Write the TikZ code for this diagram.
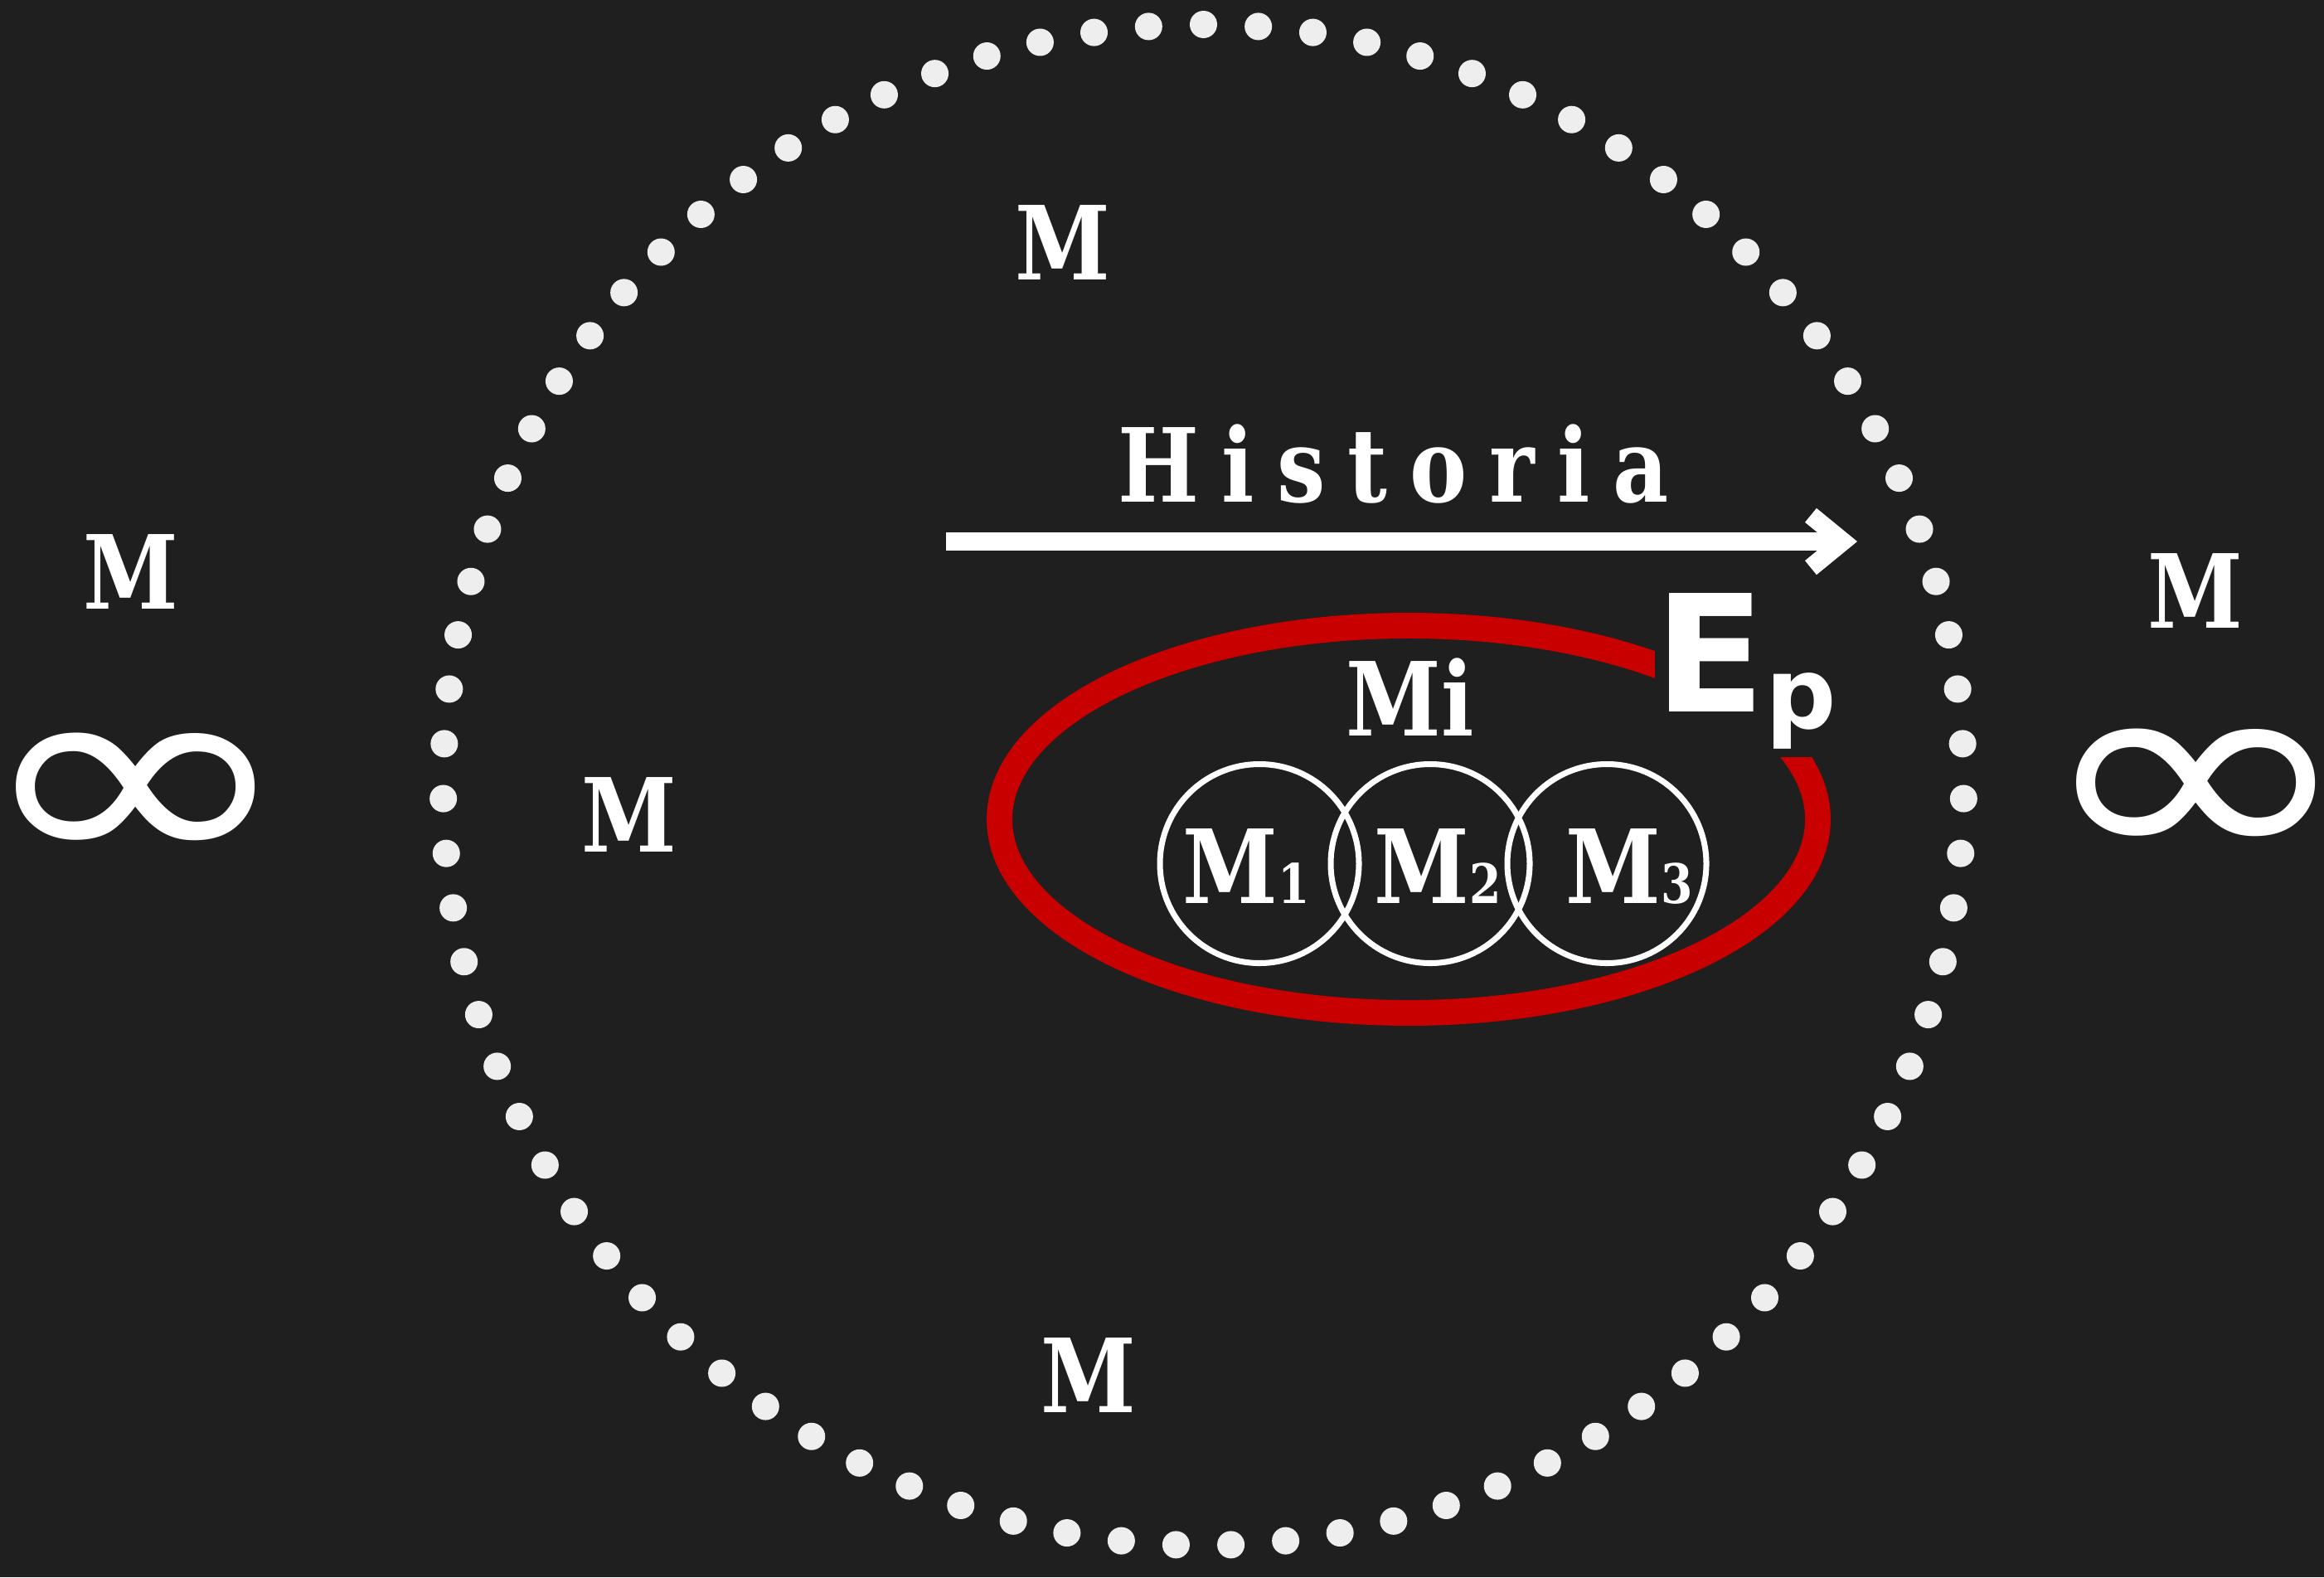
\documentclass[tikz,border=0pt]{standalone}
\usepackage{fontspec}
\setmainfont{DejaVu Serif}[FakeStretch=0.84]
\newfontfamily\histfont{DejaVu Serif}[FakeStretch=0.84, LetterSpace=22]
\newfontfamily\epfont{DejaVu Sans}
\usepackage{xcolor}
\usepackage{graphicx}
\usepackage{tikz}
\usetikzlibrary{arrows.meta, positioning}
\definecolor{bgdark}{HTML}{1F1F1F}
\definecolor{dotgray}{HTML}{EEEEEE}
\definecolor{ringred}{HTML}{C80000}
\newcommand{\msub}[1]{{\fontsize{18.7}{20}\selectfont #1}}
\newcommand{\biginfty}{\scalebox{1.326}[0.985]{∞}}
\tikzset{
  mlabel/.style={text=white, font=\fontsize{35.1}{40}\selectfont\bfseries, inner sep=0pt, anchor=base},
  histlabel/.style={mlabel, font=\histfont\fontsize{35.1}{40}\selectfont\bfseries},
  infty/.style={text=white, font=\epfont\fontsize{100}{110}\selectfont, inner sep=0pt, anchor=base},
  subcircle/.style={circle, draw=white, line width=2pt, minimum size=2.4cm, inner sep=0pt},
  ringdot/.style={fill=dotgray},
  epring/.style={draw=ringred, line width=8.8pt},
  histarrow/.style={-{Straight Barb[length=11pt,width=18pt]}, draw=white, line width=6.26pt},
  eplabel/.style={text=white, fill=bgdark, font=\epfont\bfseries\fontsize{55.8}{60}\selectfont,
                  inner xsep=0pt, inner ysep=3pt, anchor=base west},
}
\begin{document}
\begin{tikzpicture}[x=1cm, y=-1cm]

  %% canvas
  \fill[bgdark] (0,0) rectangle (28.03,19.02);
  \useasboundingbox (0,0) rectangle (28.03,19.02);

  %% dotted ring (87 dots)
  \coordinate (ringc) at (14.515, 9.465);
  \foreach \k in {0,...,86}
  {
    \fill[ringdot] (ringc) ++({\k*4.137931-90}:9.17) circle (0.165);
  }

  %% outer M labels
  \node[mlabel] (mtop) at (12.815, 3.37) {M};
  \node[mlabel] (mleft) at (1.575, 7.34) {M};
  \node[mlabel] (mright) at (26.48, 7.57) {M};
  \node[mlabel] (mmid) at (7.585, 10.27) {M};
  \node[mlabel] (mbottom) at (13.13, 17.03) {M};

  %% infinities
  \node[infty] (inftyleft) at (1.635, 10.52) {\biginfty};
  \node[infty] (inftyright) at (26.49, 10.47) {\biginfty};

  %% history arrow
  \node[histlabel] (historia) at (16.805, 6.05) {Historia};
  \coordinate (histstart) at (11.41, 6.53);
  \coordinate (histend) at (22.40, 6.53);
  \draw[histarrow] (histstart) -- (histend);

  %% Ep ring
  \draw[epring] (16.99, 9.88) ellipse [x radius=4.935, y radius=2.335];
  \node[mlabel] (mi) at (17.005, 8.87) {Mi};

  %% overlapping M1..M3
  \foreach \i/\cx/\tx in {1/15.19/15.03, 2/17.25/17.345, 3/19.38/19.65}
  {
    \node[subcircle] (c\i) at (\cx, 10.415) {};
    \node[mlabel] (m\i) at (\tx, 10.89) {M\msub{\i}};
  }

  \node[eplabel] (ep) at (19.95, 8.58) {E\raisebox{-5.7pt}{\fontsize{34}{36}\selectfont p}};

\end{tikzpicture}
\end{document}
